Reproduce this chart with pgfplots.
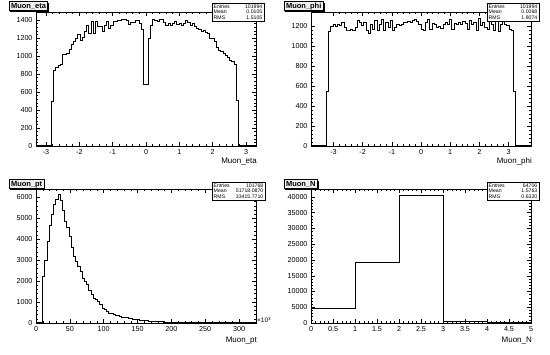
\documentclass[border=0pt]{standalone}
\usepackage{fontspec}
\setmainfont{Liberation Sans}
\usepackage{pgfplots}
\pgfplotsset{compat=1.18}

\pgfplotsset{rootstyle/.style={
  scale only axis, width=220bp, height=134bp, anchor=south west,
  axis line style={line width=0.5bp},
  tick align=inside,
  major tick length=4bp, minor tick length=2bp,
  every tick/.style={black, line width=0.4bp},
  ticklabel style={font=\fontsize{7.2}{8}\selectfont},
  /pgf/number format/assume math mode=true,
  /pgf/number format/1000 sep={},
  scaled ticks=false,
  minor tick num=4,
  ymin=0,
},
histo/.style={const plot, black, line width=1bp, no markers}}

\newcommand{\statfont}{\fontsize{5.2}{6}\selectfont}
% #1 xleft, #2 xright, #3 ytop (bp), #4 entries, #5 mean, #6 rms
\newcommand{\statbox}[6]{%
  \fill[black] (#1bp+1bp,#3bp-19bp) rectangle (#2bp+1bp,#3bp-1bp);
  \filldraw[fill=white,draw=black,line width=0.4bp] (#1bp,#3bp) rectangle (#2bp,#3bp-18bp);
  \node[anchor=west,font=\statfont,inner sep=0pt] at (#1bp+1.5bp,#3bp-3.5bp) {Entries};
  \node[anchor=east,font=\statfont,inner sep=0pt] at (#2bp-1.5bp,#3bp-3.5bp) {#4};
  \node[anchor=west,font=\statfont,inner sep=0pt] at (#1bp+1.5bp,#3bp-9bp) {Mean};
  \node[anchor=east,font=\statfont,inner sep=0pt] at (#2bp-1.5bp,#3bp-9bp) {#5};
  \node[anchor=west,font=\statfont,inner sep=0pt] at (#1bp+1.5bp,#3bp-14.5bp) {RMS};
  \node[anchor=east,font=\statfont,inner sep=0pt] at (#2bp-1.5bp,#3bp-14.5bp) {#6};
}
% #1 x, #2 ybottom, #3 text, #4 name
\newcommand{\titlebox}[4]{%
  \node[anchor=south west,draw=black,line width=0.5bp,fill=gray!12,inner xsep=1.8bp,inner ysep=1bp,
        text height=5.4bp,text depth=1.6bp,font=\bfseries\fontsize{7.5}{8}\selectfont] (#4) at (#1bp,#2bp) {#3};
  \draw[black,line width=1.2bp] ([shift={(1.2bp,-0.6bp)}]#4.south west) -- ([shift={(0.6bp,-0.6bp)}]#4.south east) -- ([shift={(0.6bp,-1.2bp)}]#4.north east);
}

\begin{document}
\begin{tikzpicture}
\path[use as bounding box] (0,0) rectangle (550bp,355bp);

% ---------------- Muon_eta
\begin{axis}[rootstyle, at={(36bp,209bp)},
  xmin=-3.3, xmax=3.3, ymax=1490,
  xtick={-3,-2,-1,0,1,2,3}, ytick={0,200,400,600,800,1000,1200,1400}]
\addplot[histo] coordinates {
(-3.300,0) (-2.838,492) (-2.772,844) (-2.706,870) (-2.640,900) (-2.574,910)
(-2.508,1019) (-2.442,1019) (-2.376,1030) (-2.310,1078) (-2.244,1130) (-2.178,1167)
(-2.112,1196) (-2.046,1240) (-1.980,1178) (-1.914,1204) (-1.848,1278) (-1.782,1344)
(-1.716,1252) (-1.650,1381) (-1.584,1252) (-1.518,1381) (-1.452,1326) (-1.386,1326)
(-1.320,1270) (-1.254,1337) (-1.188,1381) (-1.122,1307) (-1.056,1344) (-0.990,1381)
(-0.924,1381) (-0.858,1390) (-0.792,1400) (-0.726,1411) (-0.660,1411) (-0.594,1390)
(-0.528,1352) (-0.462,1374) (-0.396,1374) (-0.330,1400) (-0.264,1390) (-0.198,1360)
(-0.132,1300) (-0.066,680) (0.000,680) (0.066,1196) (0.132,1344) (0.198,1411)
(0.264,1390) (0.330,1381) (0.396,1411) (0.462,1411) (0.528,1374) (0.594,1344)
(0.660,1363) (0.726,1337) (0.792,1363) (0.858,1381) (0.924,1352) (0.990,1363)
(1.056,1344) (1.122,1363) (1.188,1390) (1.254,1374) (1.320,1344) (1.386,1363)
(1.452,1326) (1.518,1307) (1.584,1300) (1.650,1278) (1.716,1289) (1.782,1263)
(1.848,1252) (1.914,1196) (1.980,1196) (2.046,1159) (2.112,1093) (2.178,1067)
(2.244,1048) (2.310,1030) (2.376,1004) (2.442,981) (2.508,956) (2.574,937)
(2.640,907) (2.706,511) (2.772,0) (3.300,0)
};
\end{axis}

% ---------------- Muon_phi
\begin{axis}[rootstyle, at={(311bp,209bp)},
  xmin=-3.77, xmax=3.77, ymax=1340,
  xtick={-3,-2,-1,0,1,2,3}, ytick={0,200,400,600,800,1000,1200}]
\addplot[histo] coordinates {
(-3.770,0) (-3.242,540) (-3.167,1144) (-3.091,1190) (-3.016,1210) (-2.941,1190)
(-2.865,1210) (-2.790,1200) (-2.714,1234) (-2.639,1183) (-2.564,1150) (-2.488,1150)
(-2.413,1167) (-2.337,1157) (-2.262,1183) (-2.187,1250) (-2.111,1234) (-2.036,1200)
(-1.960,1234) (-1.885,1150) (-1.810,1123) (-1.734,1210) (-1.659,1167) (-1.583,1250)
(-1.508,1150) (-1.433,1217) (-1.357,1268) (-1.282,1150) (-1.206,1234) (-1.131,1183)
(-1.056,1258) (-0.980,1150) (-0.905,1183) (-0.829,1210) (-0.754,1200) (-0.679,1217)
(-0.603,1234) (-0.528,1234) (-0.452,1244) (-0.377,1234) (-0.302,1250) (-0.226,1268)
(-0.151,1244) (-0.075,1217) (0.000,1167) (0.075,1157) (0.151,1234) (0.226,1260)
(0.302,1167) (0.377,1224) (0.452,1210) (0.528,1183) (0.603,1190) (0.679,1177)
(0.754,1217) (0.829,1234) (0.905,1210) (0.980,1268) (1.056,1167) (1.131,1224)
(1.206,1210) (1.282,1234) (1.357,1217) (1.433,1244) (1.508,1224) (1.583,1167)
(1.659,1250) (1.734,1210) (1.810,1234) (1.885,1157) (1.960,1278) (2.036,1200)
(2.111,1234) (2.187,1183) (2.262,1167) (2.337,1250) (2.413,1217) (2.488,1150)
(2.564,1244) (2.639,1144) (2.714,1210) (2.790,1258) (2.865,1217) (2.941,1200)
(3.016,1167) (3.091,1150) (3.167,540) (3.242,0) (3.770,0)
};
\end{axis}

% ---------------- Muon_pt
\begin{axis}[rootstyle, at={(36bp,32bp)},
  xmin=0, xmax=325, ymax=6400,
  xtick={0,50,100,150,200,250,300}, ytick={0,1000,2000,3000,4000,5000,6000}]
\addplot[histo] coordinates {
(0,0) (9.75,2230) (13,2980) (16.25,3910) (19.5,4640) (22.75,5200) (26,5650)
(29.25,5920) (32.5,6130) (35.75,5840) (39,5360) (42.25,4850) (45.5,4560)
(48.75,4150) (52,3590) (55.25,3190) (58.5,2920) (61.75,2710) (65,2470)
(68.25,2120) (71.5,1990) (74.75,1830) (78,1540) (81.25,1350) (84.5,1190)
(87.75,1110) (91,1025) (94.25,870) (97.5,710) (100.75,625) (104,545)
(107.25,465) (110.5,440) (113.75,400) (117,370) (120.25,340) (123.5,310)
(126.75,285) (130,260) (133.25,240) (136.5,220) (139.75,200) (143,185)
(146.25,170) (149.5,155) (152.75,140) (156,128) (159.25,115) (162.5,105)
(165.75,95) (169,86) (172.25,78) (175.5,70) (178.75,63) (182,57)
(185.25,51) (188.5,46) (191.75,42) (195,38) (198.25,34) (201.5,31)
(204.75,28) (208,25) (211.25,23) (214.5,21) (217.75,19) (221,17)
(224.25,15) (227.5,14) (230.75,13) (234,12) (237.25,11) (240.5,10)
(243.75,9) (247,8) (250.25,8) (253.5,7) (256.75,6) (260,6)
(263.25,5) (266.5,5) (269.75,4) (273,4) (276.25,4) (279.5,3)
(282.75,3) (286,3) (289.25,3) (292.5,2) (295.75,2) (299,2)
(302.25,2) (305.5,2) (308.75,2) (312,1) (315.25,1) (318.5,1)
(321.75,1) (325,1)
};
\end{axis}

% ---------------- Muon_N
\begin{axis}[rootstyle, at={(311bp,32bp)},
  xmin=0, xmax=5, ymax=42500,
  xtick={0,0.5,1,1.5,2,2.5,3,3.5,4,4.5,5},
  ytick={0,5000,10000,15000,20000,25000,30000,35000,40000}]
\addplot[histo] coordinates {
(0,4550) (1,19076) (2,40400) (3,600) (4,80) (5,80)
};
\end{axis}

% axis labels
\node[anchor=base east,font=\fontsize{8}{9}\selectfont,inner sep=0pt] at (257bp,191bp) {Muon\_eta};
\node[anchor=base east,font=\fontsize{8}{9}\selectfont,inner sep=0pt] at (532bp,191bp) {Muon\_phi};
\node[anchor=base east,font=\fontsize{8}{9}\selectfont,inner sep=0pt] at (257bp,13bp) {Muon\_pt};
\node[anchor=base east,font=\fontsize{8}{9}\selectfont,inner sep=0pt] at (532bp,13bp) {Muon\_N};
\node[anchor=west,font=\fontsize{6.5}{7}\selectfont,inner sep=0pt] at (257bp,35bp) {×10\textsuperscript{3}};

% title boxes
\titlebox{9}{344}{Muon\_eta}{ta}
\titlebox{284}{344}{Muon\_phi}{tb}
\titlebox{9}{166}{Muon\_pt}{tc}
\titlebox{284}{166}{Muon\_N}{td}

% stats boxes
\statbox{212}{264}{352}{101994}{0.0105}{1.5105}
\statbox{487}{539}{352}{101994}{0.0068}{1.8074}
\statbox{212}{265}{173}{101768}{51718.0870}{33415.7710}
\statbox{487}{539}{173}{64706}{1.5763}{0.6320}
\end{tikzpicture}
\end{document}
